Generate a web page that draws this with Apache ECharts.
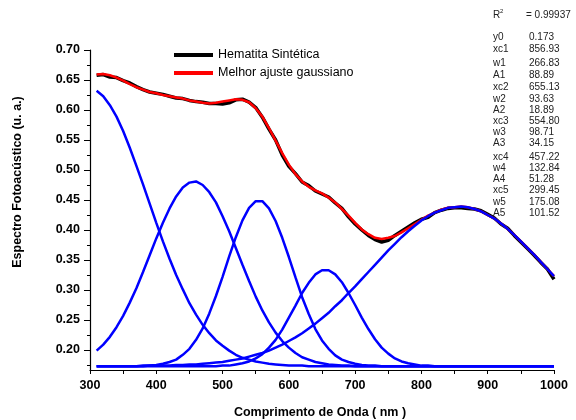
<!DOCTYPE html>
<html>
<head>
<meta charset="utf-8">
<script src="https://cdn.jsdelivr.net/npm/echarts@6/dist/echarts.min.js"></script>
<style>
  html, body { margin: 0; padding: 0; background: #fff; }
  #chart { width: 576px; height: 420px; }
</style>
</head>
<body>
<div id="chart"></div>
<script>
// Wavelength grid (nm)
const wavelength = [
  310, 320, 330, 340, 350, 360, 370, 380, 390, 400,
  410, 420, 430, 440, 450, 460, 470, 480, 490, 500,
  510, 520, 530, 540, 550, 560, 570, 580, 590, 600,
  610, 620, 630, 640, 650, 660, 670, 680, 690, 700,
  710, 720, 730, 740, 750, 760, 770, 780, 790, 800,
  810, 820, 830, 840, 850, 860, 870, 880, 890, 900,
  910, 920, 930, 940, 950, 960, 970, 980, 990, 1000
];

// Measured photoacoustic spectrum
const measured = [
  0.658, 0.659, 0.655, 0.654, 0.649, 0.645, 0.639, 0.634, 0.630, 0.628,
  0.626, 0.623, 0.620, 0.619, 0.616, 0.614, 0.613, 0.611, 0.611, 0.610,
  0.612, 0.617, 0.618, 0.613, 0.604, 0.588, 0.568, 0.550, 0.525, 0.506,
  0.494, 0.480, 0.474, 0.465, 0.460, 0.455, 0.445, 0.436, 0.422, 0.410,
  0.400, 0.391, 0.384, 0.380, 0.383, 0.391, 0.398, 0.405, 0.412, 0.418,
  0.421, 0.429, 0.433, 0.436, 0.437, 0.437, 0.436, 0.435, 0.432, 0.426,
  0.420, 0.410, 0.403, 0.391, 0.380, 0.369, 0.358, 0.346, 0.335, 0.318
];

// Best gaussian fit (sum of the five bands)
const fitted = [
  0.659, 0.660, 0.658, 0.654, 0.649, 0.643, 0.638, 0.634, 0.630, 0.628,
  0.625, 0.623, 0.621, 0.619, 0.616, 0.614, 0.612, 0.611, 0.612, 0.614,
  0.616, 0.618, 0.617, 0.613, 0.603, 0.589, 0.570, 0.549, 0.528, 0.509,
  0.493, 0.481, 0.472, 0.466, 0.461, 0.454, 0.446, 0.435, 0.424, 0.412,
  0.401, 0.393, 0.387, 0.385, 0.387, 0.390, 0.396, 0.403, 0.410, 0.417,
  0.424, 0.429, 0.434, 0.437, 0.438, 0.439, 0.438, 0.435, 0.431, 0.425,
  0.419, 0.411, 0.402, 0.392, 0.381, 0.370, 0.359, 0.347, 0.335, 0.323
];

// Individual gaussian bands (offset y0 included)
const band5 = [
  0.632, 0.623, 0.608, 0.589, 0.565, 0.537, 0.507, 0.476, 0.444, 0.412,
  0.381, 0.352, 0.325, 0.301, 0.278, 0.259, 0.242, 0.228, 0.216, 0.207,
  0.199, 0.192, 0.187, 0.184, 0.181, 0.179, 0.177, 0.176, 0.175, 0.174,
  0.174, 0.174, 0.173, 0.173, 0.173, 0.173, 0.173, 0.173, 0.173, 0.173,
  0.173, 0.173, 0.173, 0.173, 0.173, 0.173, 0.173, 0.173, 0.173, 0.173,
  0.173, 0.173, 0.173, 0.173, 0.173, 0.173, 0.173, 0.173, 0.173, 0.173,
  0.173, 0.173, 0.173, 0.173, 0.173, 0.173, 0.173, 0.173, 0.173, 0.173
];
const band4 = [
  0.199, 0.209, 0.222, 0.238, 0.257, 0.279, 0.303, 0.330, 0.358, 0.386,
  0.412, 0.436, 0.456, 0.471, 0.479, 0.481, 0.475, 0.463, 0.446, 0.423,
  0.398, 0.370, 0.342, 0.315, 0.289, 0.266, 0.246, 0.229, 0.215, 0.204,
  0.195, 0.188, 0.184, 0.180, 0.178, 0.176, 0.175, 0.174, 0.174, 0.173,
  0.173, 0.173, 0.173, 0.173, 0.173, 0.173, 0.173, 0.173, 0.173, 0.173,
  0.173, 0.173, 0.173, 0.173, 0.173, 0.173, 0.173, 0.173, 0.173, 0.173,
  0.173, 0.173, 0.173, 0.173, 0.173, 0.173, 0.173, 0.173, 0.173, 0.173
];
const band3 = [
  0.173, 0.173, 0.173, 0.173, 0.173, 0.173, 0.173, 0.174, 0.174, 0.175,
  0.177, 0.180, 0.184, 0.192, 0.202, 0.217, 0.236, 0.261, 0.290, 0.322,
  0.356, 0.388, 0.416, 0.437, 0.448, 0.448, 0.436, 0.415, 0.387, 0.355,
  0.321, 0.288, 0.260, 0.235, 0.216, 0.202, 0.191, 0.184, 0.180, 0.177,
  0.175, 0.174, 0.174, 0.173, 0.173, 0.173, 0.173, 0.173, 0.173, 0.173,
  0.173, 0.173, 0.173, 0.173, 0.173, 0.173, 0.173, 0.173, 0.173, 0.173,
  0.173, 0.173, 0.173, 0.173, 0.173, 0.173, 0.173, 0.173, 0.173, 0.173
];
const band2 = [
  0.173, 0.173, 0.173, 0.173, 0.173, 0.173, 0.173, 0.173, 0.173, 0.173,
  0.173, 0.173, 0.173, 0.173, 0.173, 0.173, 0.173, 0.173, 0.173, 0.174,
  0.174, 0.176, 0.178, 0.181, 0.186, 0.193, 0.204, 0.217, 0.234, 0.254,
  0.274, 0.295, 0.312, 0.326, 0.333, 0.333, 0.326, 0.313, 0.295, 0.275,
  0.254, 0.235, 0.218, 0.204, 0.194, 0.186, 0.181, 0.178, 0.176, 0.174,
  0.174, 0.173, 0.173, 0.173, 0.173, 0.173, 0.173, 0.173, 0.173, 0.173,
  0.173, 0.173, 0.173, 0.173, 0.173, 0.173, 0.173, 0.173, 0.173, 0.173
];
const band1 = [
  0.173, 0.173, 0.173, 0.173, 0.173, 0.173, 0.173, 0.173, 0.174, 0.174,
  0.174, 0.174, 0.175, 0.175, 0.176, 0.176, 0.177, 0.178, 0.179, 0.180,
  0.182, 0.184, 0.186, 0.189, 0.192, 0.195, 0.199, 0.204, 0.209, 0.215,
  0.221, 0.228, 0.236, 0.244, 0.253, 0.262, 0.273, 0.283, 0.295, 0.306,
  0.318, 0.330, 0.342, 0.354, 0.366, 0.377, 0.388, 0.398, 0.407, 0.416,
  0.423, 0.429, 0.433, 0.437, 0.438, 0.439, 0.438, 0.435, 0.431, 0.425,
  0.419, 0.411, 0.402, 0.392, 0.381, 0.370, 0.359, 0.347, 0.335, 0.323
];

// Axis ticks
const yMajorTicks = [0.20, 0.25, 0.30, 0.35, 0.40, 0.45, 0.50, 0.55, 0.60, 0.65, 0.70];
const yMinorTicks = [0.175, 0.225, 0.275, 0.325, 0.375, 0.425, 0.475, 0.525, 0.575, 0.625, 0.675];

// Fit report
const fitNames = ['y0', 'xc1', 'w1', 'A1', 'xc2', 'w2', 'A2', 'xc3', 'w3', 'A3', 'xc4', 'w4', 'A4', 'xc5', 'w5', 'A5'];
const fitValues = ['0.173', '856.93', '266.83', '88.89', '655.13', '93.63', '18.89', '554.80', '98.71', '34.15', '457.22', '132.84', '51.28', '299.45', '175.08', '101.52'];
const fitRowY = [38, 50, 64, 76, 88, 100, 111, 122, 133, 144, 158, 169, 180, 191, 203, 214];

const FONT = '"Liberation Sans", Arial, Helvetica, sans-serif';

const pairs = vals => wavelength.map((w, i) => [w, vals[i]]);

const chart = echarts.init(document.getElementById('chart'), null, { renderer: 'canvas' });

const bandSeries = [band5, band4, band3, band2, band1].map((b, i) => ({
  name: 'band' + (5 - i),
  type: 'line',
  data: pairs(b),
  showSymbol: false,
  symbol: 'none',
  lineStyle: { color: '#0000ff', width: 2.5 },
  z: 4,
  silent: true
}));

const reportGraphics = [
  { type: 'text', x: 493, y: 10, style: { text: 'R', font: '10px ' + FONT, fill: '#222' } },
  { type: 'text', x: 500, y: 8, style: { text: '2', font: '6px ' + FONT, fill: '#222' } },
  { type: 'text', x: 526, y: 10, style: { text: '= 0.99937', font: '10px ' + FONT, fill: '#222' } }
];
fitNames.forEach((n, i) => {
  reportGraphics.push({
    type: 'text', x: 493, y: fitRowY[i] - 6,
    style: { text: n, font: '10px ' + FONT, fill: '#222' }
  });
  reportGraphics.push({
    type: 'text', x: 529, y: fitRowY[i] - 6,
    style: { text: fitValues[i], font: '10px ' + FONT, fill: '#222' }
  });
});

const option = {
  backgroundColor: '#ffffff',
  animation: false,
  grid: { left: 90, top: 50, width: 464, height: 320, containLabel: false },
  legend: {
    data: ['Hematita Sintética', 'Melhor ajuste gaussiano'],
    orient: 'vertical',
    left: 174,
    top: 48,
    padding: 0,
    icon: 'rect',
    itemWidth: 39,
    itemHeight: 4,
    itemGap: 4,
    textStyle: { fontFamily: FONT, fontSize: 12.5, color: '#000', lineHeight: 14 },
    selectedMode: false
  },
  xAxis: {
    type: 'value',
    min: 300,
    max: 1000,
    interval: 100,
    axisLine: { show: true, lineStyle: { color: '#000', width: 1.2 } },
    axisTick: { show: true, length: 4, lineStyle: { color: '#000' } },
    minorTick: { show: true, splitNumber: 2, length: 4, lineStyle: { color: '#000' } },
    axisLabel: {
      formatter: v => String(v),
      color: '#000', fontFamily: FONT, fontWeight: 'bold', fontSize: 12.5, margin: 9
    },
    splitLine: { show: false }
  },
  yAxis: [
    {
      type: 'value',
      min: 0.1667,
      max: 0.70,
      axisLine: { show: true, lineStyle: { color: '#000', width: 1.2 } },
      axisTick: { show: true, length: 6, customValues: yMajorTicks, lineStyle: { color: '#000' } },
      axisLabel: {
        show: true, customValues: yMajorTicks,
        formatter: v => v.toFixed(2),
        color: '#000', fontFamily: FONT, fontWeight: 'bold', fontSize: 12.5, margin: 10
      },
      splitLine: { show: false }
    },
    {
      type: 'value',
      min: 0.1667,
      max: 0.70,
      position: 'left',
      axisLine: { show: false },
      axisTick: { show: true, length: 3, customValues: yMinorTicks, lineStyle: { color: '#000' } },
      axisLabel: { show: false },
      splitLine: { show: false }
    }
  ],
  series: [
    {
      name: 'Hematita Sintética',
      type: 'line',
      data: pairs(measured),
      showSymbol: false,
      symbol: 'none',
      itemStyle: { color: '#000000' },
      lineStyle: { color: '#000000', width: 3.5 },
      z: 2
    },
    {
      name: 'Melhor ajuste gaussiano',
      type: 'line',
      data: pairs(fitted),
      showSymbol: false,
      symbol: 'none',
      itemStyle: { color: '#ff0000' },
      lineStyle: { color: '#ff0000', width: 2.5 },
      z: 3
    }
  ].concat(bandSeries),
  graphic: [
    {
      type: 'text', x: 320, y: 413,
      style: {
        text: 'Comprimento de Onda ( nm )', font: 'bold 12.5px ' + FONT, fill: '#000',
        align: 'center', verticalAlign: 'middle'
      }
    },
    {
      type: 'text',
      x: 18, y: 182,
      rotation: Math.PI / 2,
      style: {
        text: 'Espectro Fotoacústico (u. a.)',
        font: 'bold 12.5px ' + FONT, fill: '#000',
        align: 'center', verticalAlign: 'middle'
      }
    }
  ].concat(reportGraphics)
};

chart.setOption(option);
</script>
</body>
</html>
